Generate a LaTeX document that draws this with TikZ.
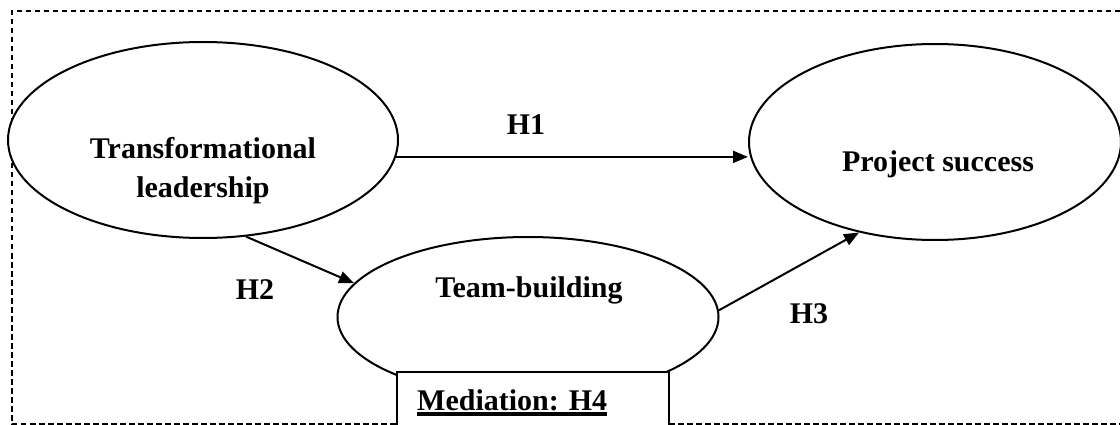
\documentclass[tikz,border=0pt]{standalone}
\usepackage{fontspec}
\setmainfont{Liberation Serif}
\usetikzlibrary{shapes.geometric,arrows.meta}
\newcommand\myul[1]{\setbox0\hbox{#1}\rlap{\rule[-5.5pt]{\wd0}{3.3pt}}\box0}
\tikzset{
  construct/.style={ellipse, draw, line width=2pt, fill=white, inner sep=0pt},
  lbl/.style={font=\bfseries\fontsize{30}{39}\selectfont, inner sep=0pt, anchor=base},
  arr/.style={line width=2pt, -{Triangle[length=15pt,width=12pt]}},
  frame/.style={line width=1.6pt, dash pattern=on 5.5pt off 3.5pt}
}
\begin{document}
\begin{tikzpicture}[x=1pt,y=-1pt]
\useasboundingbox (0,0) rectangle (1120,425);
% dashed frame (open on the right)
\draw[frame] (1120,11) -- (12,11) -- (12,424) -- (1120,424);
% constructs
\node[construct, minimum width=390pt, minimum height=196pt] (tl) at (203,140) {};
\node[construct, minimum width=372pt, minimum height=196pt] (ps) at (935,142) {};
\node[construct, minimum width=381pt, minimum height=160pt] (tb) at (528,317) {};
% mediation box
\node[draw, line width=2pt, fill=white, minimum width=272pt, minimum height=62pt, inner sep=0pt] (med) at (533,403) {};
% texts
\node[lbl, align=center] (tltext) at (203,197) {Transformational\\leadership};
\node[lbl] (pstext) at (938,172) {Project success};
\node[lbl] (tbtext) at (529,297) {Team-building};
\node[lbl, anchor=base west] (medtext) at (417,410) {\myul{Mediation: H4}};
% connectors
\draw[arr] (tl.-5) -- (tl.-5 -| ps.west);
\draw[arr] (tl.-66) -- (tb.169);
\draw[arr] (tb.2) -- (ps.230);
% hypothesis labels
\node[lbl] (h1) at (526,135) {H1};
\node[lbl] (h2) at (255,299) {H2};
\node[lbl] (h3) at (809,323) {H3};
\end{tikzpicture}
\end{document}
